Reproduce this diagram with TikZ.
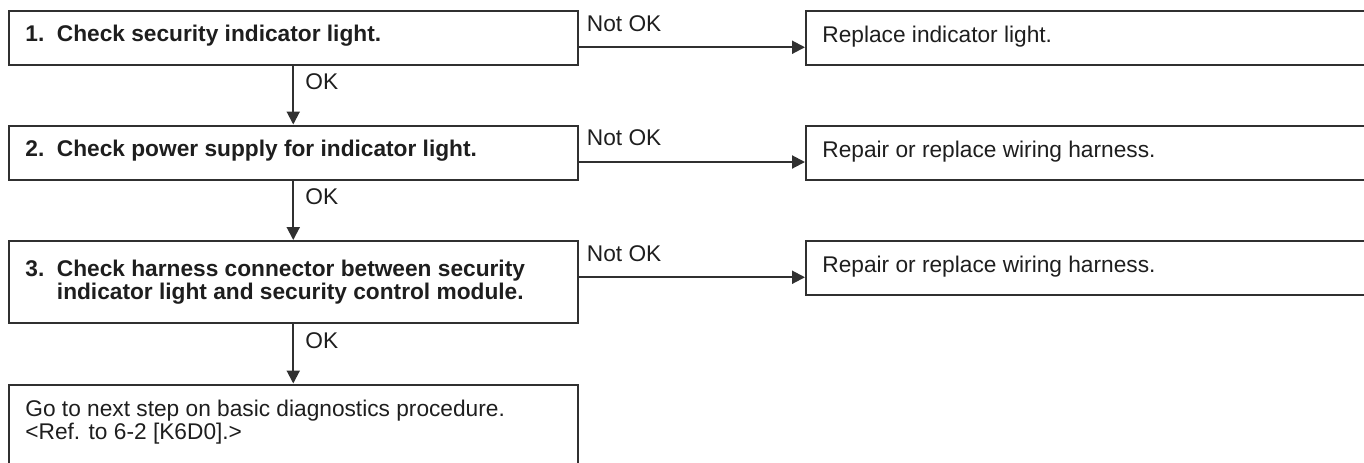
\documentclass[tikz,border=0pt]{standalone}
\usepackage{fontspec}
\setmainfont{Liberation Sans}
\usetikzlibrary{arrows.meta,calc,fit}
\definecolor{ln}{HTML}{303030}
\definecolor{tx}{HTML}{1E1E1E}
\begin{document}
\begin{tikzpicture}[x=0.5pt,y=-0.5pt,
  box/.style={draw=ln,line width=1pt,inner sep=0pt},
  txt/.style={anchor=base west,inner sep=0pt,text=tx,font=\fontsize{11.35pt}{11.8pt}\selectfont},
  btxt/.style={txt,font=\fontsize{11.35pt}{11.8pt}\selectfont\bfseries},
  arr/.style={draw=ln,line width=1pt,-{Triangle[length=6.5pt,width=6.5pt]}}]
\useasboundingbox (0,0) rectangle (1364,462);
\clip (0,0) rectangle (1364,462);
% left boxes
\node[box,fit={(9,11)(577.5,64.5)}] (b1) {};
\node[box,fit={(9,125.5)(577.5,179.5)}] (b2) {};
\node[box,fit={(9,241)(577.5,323.3)}] (b3) {};
\node[box,fit={(9,384.5)(577.5,480)}] (b4) {};
% right boxes
\node[box,fit={(806,11)(1380,64.5)}] (r1) {};
\node[box,fit={(806,125.5)(1380,179.5)}] (r2) {};
\node[box,fit={(806,241)(1380,294.5)}] (r3) {};
% texts
\node[btxt] (t1) at (25,41.7) {1.\ \ Check security indicator light.};
\node[btxt] (t2) at (25,156.5) {2.\ \ Check power supply for indicator light.};
\node[btxt] (t3) at (25,276) {\begin{tabular}[t]{@{}l@{\ \ }l@{}}3.&Check harness connector between security\\&indicator light and security control module.\end{tabular}};
\node[txt] (t4) at (25,416) {\begin{tabular}[t]{@{}l@{}}Go to next step on basic diagnostics procedure.\\<Ref. to 6-2 [K6D0].>\end{tabular}};
\node[txt] (s1) at (822,42.3) {Replace indicator light.};
\node[txt] (s2) at (822,157) {Repair or replace wiring harness.};
\node[txt] (s3) at (822,272) {Repair or replace wiring harness.};
% labels
\node[txt] (n1) at (586.5,31) {Not OK};
\node[txt] (n2) at (586.5,145.5) {Not OK};
\node[txt] (n3) at (586.5,261) {Not OK};
\node[txt] (o1) at (305,89.5) {OK};
\node[txt] (o2) at (305,204.5) {OK};
\node[txt] (o3) at (305,348) {OK};
% connectors
\draw[arr] (b1.south) -- (b2.north);
\draw[arr] (b2.south) -- (b3.north);
\draw[arr] (b3.south) -- (b4.north);
\coordinate (h1) at ($(r1.west)+(0,9.5)$);
\coordinate (h2) at ($(r2.west)+(0,9.5)$);
\coordinate (h3) at ($(r3.west)+(0,9.5)$);
\draw[arr] (b1.east |- h1) -- (h1);
\draw[arr] (b2.east |- h2) -- (h2);
\draw[arr] (b3.east |- h3) -- (h3);
\end{tikzpicture}
\end{document}
